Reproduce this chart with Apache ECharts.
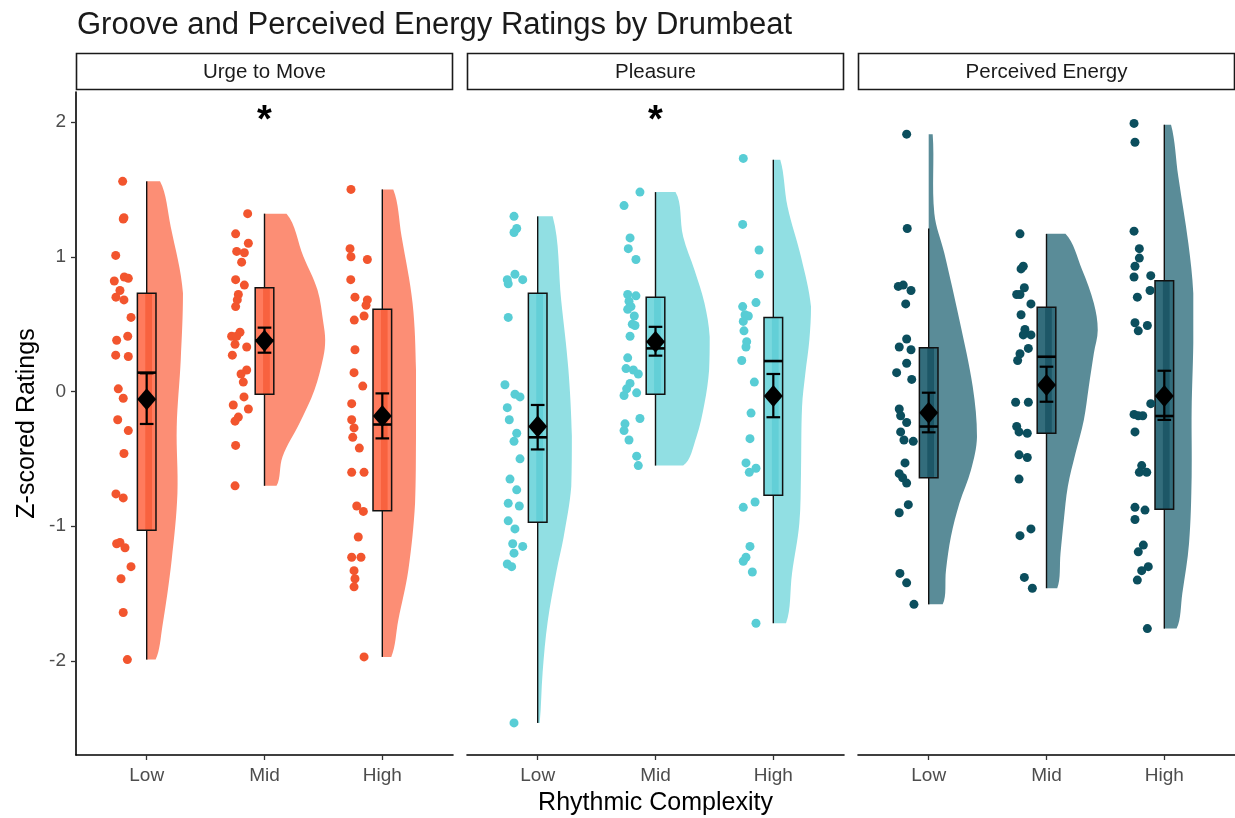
<!DOCTYPE html>
<html><head><meta charset="utf-8">
<script src="https://cdn.jsdelivr.net/npm/echarts@6/dist/echarts.min.js"></script>
<style>html,body{margin:0;padding:0;background:#fff}#c{width:1235px;height:818px}</style>
</head><body><div id="c"></div>
<script>
const chartTitle = 'Groove and Perceived Energy Ratings by Drumbeat';
const panels = ['Urge to Move', 'Pleasure', 'Perceived Energy'];
const categories = ['Low', 'Mid', 'High'];
const yTicks = [-2, -1, 0, 1, 2];
const xTitle = 'Rhythmic Complexity';
const yTitle = 'Z-scored Ratings';

// ---- raw ratings (z-scores) and horizontal jitter (category units) ----
const urgeLow = [1.56,1.28,1.29,1.01,0.82,0.85,0.84,0.75,0.70,0.68,0.55,0.38,0.41,0.27,0.26,0.02,-0.05,-0.21,-0.29,-0.46,-0.76,-0.79,-1.13,-1.12,-1.16,-1.30,-1.39,-1.64,-1.99];
const urgeLowJit = [-0.204,-0.199,-0.193,-0.263,-0.275,-0.19,-0.156,-0.227,-0.261,-0.193,-0.133,-0.255,-0.161,-0.263,-0.156,-0.241,-0.199,-0.246,-0.156,-0.193,-0.261,-0.199,-0.255,-0.227,-0.184,-0.133,-0.218,-0.199,-0.164];
const urgeMid = [1.32,1.17,1.10,1.04,1.03,0.96,0.83,0.79,0.72,0.68,0.63,0.44,0.41,0.41,0.35,0.33,0.27,0.16,0.13,0.07,-0.04,-0.10,-0.13,-0.19,-0.22,-0.40,-0.70];
const urgeMidJit = [-0.143,-0.245,-0.137,-0.236,-0.171,-0.194,-0.245,-0.171,-0.222,-0.231,-0.245,-0.208,-0.279,-0.236,-0.250,-0.151,-0.273,-0.151,-0.199,-0.180,-0.174,-0.265,-0.137,-0.222,-0.250,-0.245,-0.250];
const urgeHigh = [1.50,1.06,1.00,0.98,0.83,0.70,0.68,0.64,0.56,0.53,0.31,0.14,0.04,-0.09,-0.21,-0.27,-0.34,-0.42,-0.60,-0.60,-0.85,-0.89,-1.08,-1.23,-1.23,-1.33,-1.39,-1.45,-1.97];
const urgeHighJit = [-0.266,-0.274,-0.266,-0.127,-0.268,-0.232,-0.127,-0.138,-0.155,-0.238,-0.232,-0.240,-0.166,-0.260,-0.260,-0.240,-0.251,-0.195,-0.260,-0.155,-0.217,-0.161,-0.204,-0.260,-0.181,-0.240,-0.232,-0.240,-0.155];

const pleasureLow = [1.30,1.21,1.18,0.87,0.83,0.83,0.80,0.55,0.05,-0.02,-0.04,-0.12,-0.21,-0.31,-0.37,-0.50,-0.65,-0.73,-0.83,-0.85,-0.96,-1.02,-1.13,-1.15,-1.20,-1.28,-1.30,-2.46];
const pleasureLowJit = [-0.201,-0.178,-0.201,-0.193,-0.258,-0.127,-0.250,-0.250,-0.278,-0.193,-0.150,-0.258,-0.241,-0.178,-0.201,-0.150,-0.235,-0.178,-0.250,-0.156,-0.250,-0.193,-0.212,-0.127,-0.201,-0.258,-0.221,-0.201];
const pleasureMid = [1.48,1.38,1.14,1.06,0.98,0.72,0.71,0.67,0.63,0.61,0.56,0.50,0.49,0.41,0.25,0.17,0.16,0.13,0.06,0.02,-0.01,-0.03,-0.20,-0.24,-0.29,-0.36,-0.48,-0.55];
const pleasureMidJit = [-0.132,-0.267,-0.216,-0.231,-0.166,-0.236,-0.166,-0.225,-0.208,-0.236,-0.180,-0.197,-0.174,-0.216,-0.236,-0.250,-0.188,-0.146,-0.216,-0.245,-0.160,-0.267,-0.132,-0.259,-0.267,-0.225,-0.160,-0.146];
const pleasureHigh = [1.73,1.24,1.05,0.87,0.66,0.63,0.57,0.56,0.52,0.45,0.37,0.33,0.23,0.07,-0.16,-0.35,-0.53,-0.60,-0.57,-0.86,-0.82,-1.15,-1.23,-1.26,-1.34,-1.72];
const pleasureHighJit = [-0.255,-0.260,-0.121,-0.119,-0.147,-0.260,-0.240,-0.212,-0.255,-0.249,-0.226,-0.232,-0.268,-0.161,-0.189,-0.198,-0.232,-0.204,-0.147,-0.255,-0.155,-0.198,-0.232,-0.255,-0.178,-0.147];

const energyLow = [1.91,1.21,0.78,0.79,0.75,0.65,0.39,0.33,0.31,0.21,0.14,0.09,-0.13,-0.18,-0.23,-0.30,-0.36,-0.37,-0.53,-0.61,-0.64,-0.68,-0.84,-0.90,-1.35,-1.42,-1.58];
const energyLowJit = [-0.187,-0.182,-0.258,-0.216,-0.150,-0.195,-0.187,-0.250,-0.150,-0.187,-0.272,-0.144,-0.250,-0.238,-0.187,-0.238,-0.210,-0.131,-0.201,-0.250,-0.221,-0.187,-0.173,-0.250,-0.244,-0.187,-0.125];
const energyMid = [1.17,0.93,0.91,0.77,0.72,0.72,0.65,0.57,0.46,0.42,0.42,0.32,0.28,0.23,-0.08,-0.08,-0.26,-0.30,-0.31,-0.47,-0.49,-0.65,-1.07,-1.02,-1.38,-1.46];
const energyMidJit = [-0.225,-0.197,-0.216,-0.188,-0.253,-0.225,-0.132,-0.216,-0.183,-0.197,-0.132,-0.154,-0.225,-0.245,-0.262,-0.154,-0.253,-0.233,-0.163,-0.233,-0.163,-0.233,-0.225,-0.132,-0.188,-0.120];
const energyHigh = [1.99,1.85,1.19,1.06,0.99,0.93,0.85,0.86,0.75,0.70,0.51,0.45,0.49,-0.09,-0.17,-0.18,-0.18,-0.30,-0.55,-0.60,-0.60,-0.86,-0.88,-0.95,-1.14,-1.19,-1.30,-1.33,-1.40,-1.76];
const energyHighJit = [-0.257,-0.249,-0.257,-0.212,-0.212,-0.249,-0.257,-0.115,-0.121,-0.229,-0.249,-0.221,-0.144,-0.115,-0.257,-0.183,-0.221,-0.249,-0.192,-0.212,-0.149,-0.249,-0.164,-0.249,-0.178,-0.221,-0.136,-0.192,-0.229,-0.144];

// ---- box stats per category: [lower whisker, Q1, median, Q3, upper whisker] ----
const urgeBox = [[-1.99,-1.03,0.14,0.73,1.56],[-0.70,-0.02,0.38,0.77,1.32],[-1.97,-0.885,-0.245,0.61,1.50]];
const pleasureBox = [[-2.46,-0.97,-0.34,0.73,1.30],[-0.55,-0.02,0.32,0.70,1.48],[-1.72,-0.77,0.226,0.55,1.72]];
const energyBox = [[-1.58,-0.64,-0.26,0.325,1.21],[-1.46,-0.31,0.258,0.625,1.17],[-1.76,-0.874,-0.182,0.822,1.98]];

// ---- means and standard-error bounds ----
const urgeMean = [-0.058, 0.377, -0.182];
const urgeErrLow = [-0.241, 0.288, -0.348];
const urgeErrHigh = [0.135, 0.474, -0.014];
const pleasureMean = [-0.26, 0.37, -0.033];
const pleasureErrLow = [-0.43, 0.266, -0.191];
const pleasureErrHigh = [-0.10, 0.48, 0.13];
const energyMean = [-0.157, 0.048, -0.033];
const energyErrLow = [-0.303, -0.076, -0.211];
const energyErrHigh = [-0.009, 0.184, 0.154];

// ---- half-violin density profiles: [rating, half-width in category units] ----
const urgeLowViolin = [[1.56,0.113],[1.223,0.204],[0.729,0.308],[0.234,0.289],[-0.261,0.255],[-0.756,0.261],[-1.25,0.212],[-1.745,0.133],[-1.99,0.076]];
const urgeMidViolin = [[1.32,0.187],[1.0,0.331],[0.753,0.45],[0.506,0.50],[0.382,0.515],[0.258,0.50],[0.011,0.424],[-0.236,0.297],[-0.484,0.153],[-0.70,0.102]];
const urgeHighViolin = [[1.50,0.093],[1.149,0.164],[0.655,0.257],[0.16,0.286],[-0.335,0.286],[-0.83,0.278],[-1.325,0.221],[-1.696,0.136],[-1.97,0.076]];
const pleasureLowViolin = [[1.30,0.127],[0.672,0.20],[0.17,0.26],[-0.33,0.29],[-0.706,0.285],[-1.082,0.22],[-1.332,0.16],[-1.708,0.085],[-2.084,0.042],[-2.46,0.017]];
const pleasureMidViolin = [[1.48,0.17],[1.149,0.235],[0.902,0.331],[0.655,0.416],[0.407,0.46],[0.16,0.455],[-0.088,0.416],[-0.335,0.348],[-0.55,0.235]];
const pleasureHighViolin = [[1.72,0.059],[1.371,0.121],[1.0,0.235],[0.629,0.32],[0.382,0.306],[0.135,0.272],[-0.113,0.244],[-0.607,0.235],[-0.978,0.221],[-1.349,0.159],[-1.72,0.108]];
const energyLowViolin = [[1.91,0.034],[1.322,0.048],[1.026,0.133],[0.531,0.261],[0.036,0.374],[-0.335,0.41],[-0.583,0.359],[-0.83,0.261],[-1.077,0.189],[-1.325,0.147],[-1.58,0.119]];
const energyMidViolin = [[1.17,0.161],[0.902,0.303],[0.655,0.402],[0.456,0.435],[0.283,0.402],[0.036,0.359],[-0.211,0.317],[-0.459,0.246],[-0.706,0.181],[-0.954,0.147],[-1.201,0.119],[-1.46,0.091]];
const energyHighViolin = [[1.98,0.057],[1.594,0.119],[1.1,0.204],[0.729,0.246],[0.358,0.246],[-0.137,0.232],[-0.632,0.232],[-1.127,0.21],[-1.498,0.153],[-1.76,0.104]];

// ---- significance annotations (symbol per panel at Mid) ----
const starText = ['*', '*', ''];
const starLevel = 2.07;

// ---------------- assemble ----------------
const panelData = [
  {vals:[urgeLow,urgeMid,urgeHigh], jit:[urgeLowJit,urgeMidJit,urgeHighJit], box:urgeBox, mean:urgeMean, lo:urgeErrLow, hi:urgeErrHigh, violin:[urgeLowViolin,urgeMidViolin,urgeHighViolin]},
  {vals:[pleasureLow,pleasureMid,pleasureHigh], jit:[pleasureLowJit,pleasureMidJit,pleasureHighJit], box:pleasureBox, mean:pleasureMean, lo:pleasureErrLow, hi:pleasureErrHigh, violin:[pleasureLowViolin,pleasureMidViolin,pleasureHighViolin]},
  {vals:[energyLow,energyMid,energyHigh], jit:[energyLowJit,energyMidJit,energyHighJit], box:energyBox, mean:energyMean, lo:energyErrLow, hi:energyErrHigh, violin:[energyLowViolin,energyMidViolin,energyHighViolin]}
];
const palette = [
  {point:'#F2552E', violin:'#FC8E75', box:'#FF7B5D', stripe:'#F8623F'},
  {point:'#58CDD5', violin:'#91DFE3', box:'#79D8DE', stripe:'#63CFD7'},
  {point:'#0B4E5D', violin:'#5A8C98', box:'#336D7C', stripe:'#1D5767'}
];

const FONT = '"Liberation Sans", Arial, sans-serif';
const gridLefts = [76, 467, 858];
const gridW = 377, gridTop = 92, gridH = 663;
const Y_MIN = -2.698, Y_MAX = 2.223;
const boxHalf = 0.079, capHalf = 0.058;

const grids = [], xAxes = [], yAxes = [], series = [], graphics = [];

panelData.forEach((pd, k) => {
  const col = palette[k];
  grids.push({left: gridLefts[k], top: gridTop, width: gridW, height: gridH, containLabel: false, outerBoundsMode: 'none'});
  xAxes.push({
    gridIndex: k, type: 'value', min: 0.4, max: 3.6,
    axisLine: {show: true, onZero: false, lineStyle: {color: '#000', width: 1.6}},
    axisTick: {show: true, customValues: [1,2,3], length: 5, lineStyle: {color: '#333', width: 1.3}},
    axisLabel: {show: true, customValues: [1,2,3], formatter: v => categories[Math.round(v) - 1], fontSize: 19, color: '#4d4d4d', margin: 11, fontFamily: FONT},
    splitLine: {show: false}
  });
  yAxes.push({
    gridIndex: k, type: 'value', min: Y_MIN, max: Y_MAX,
    axisLine: {show: k === 0, onZero: false, lineStyle: {color: '#000', width: 1.6}},
    axisTick: {show: k === 0, customValues: yTicks, length: 5, lineStyle: {color: '#333', width: 1.3}},
    axisLabel: {show: k === 0, customValues: yTicks, fontSize: 19, color: '#4d4d4d', margin: 10, fontFamily: FONT},
    splitLine: {show: false}
  });

  // half violins
  series.push({
    type: 'custom', xAxisIndex: k, yAxisIndex: k, silent: true, z: 1,
    data: categories.map((c, i) => [i + 1, 0]),
    renderItem: (params, api) => {
      const i = params.dataIndex, cx = i + 1, prof = pd.violin[i];
      const right = prof.map(p => api.coord([cx + p[1], p[0]]));
      const left = prof.slice().reverse().map(p => api.coord([cx, p[0]]));
      const pts = right.concat(left);
      let minX = Infinity, minY = Infinity, maxX = -Infinity, maxY = -Infinity;
      pts.forEach(p => { minX = Math.min(minX, p[0]); maxX = Math.max(maxX, p[0]); minY = Math.min(minY, p[1]); maxY = Math.max(maxY, p[1]); });
      return {type: 'polygon', shape: {points: pts, smooth: 0.35, smoothConstraint: [[minX, minY], [maxX, maxY]]},
              style: {fill: col.violin}};
    }
  });

  // boxplots
  series.push({
    type: 'custom', xAxisIndex: k, yAxisIndex: k, silent: true, z: 2,
    data: pd.box.map((b, i) => [i + 1].concat(b)),
    renderItem: (params, api) => {
      const cx = api.value(0), lw = api.value(1), q1 = api.value(2), md = api.value(3), q3 = api.value(4), uw = api.value(5);
      const pTL = api.coord([cx - boxHalf, q3]), pBR = api.coord([cx + boxHalf, q1]);
      const sTL = api.coord([cx - 0.012, q3]), sBR = api.coord([cx + 0.045, q1]);
      const top = api.coord([cx, uw]), bot = api.coord([cx, lw]);
      const mL = api.coord([cx - boxHalf, md]), mR = api.coord([cx + boxHalf, md]);
      const cq3 = api.coord([cx, q3]), cq1 = api.coord([cx, q1]);
      const ls = {stroke: '#111', lineWidth: 1.4};
      return {type: 'group', children: [
        {type: 'line', shape: {x1: top[0], y1: top[1], x2: cq3[0], y2: cq3[1]}, style: ls},
        {type: 'line', shape: {x1: cq1[0], y1: cq1[1], x2: bot[0], y2: bot[1]}, style: ls},
        {type: 'rect', shape: {x: pTL[0], y: pTL[1], width: pBR[0] - pTL[0], height: pBR[1] - pTL[1]}, style: {fill: col.box}},
        {type: 'rect', shape: {x: sTL[0], y: sTL[1], width: sBR[0] - sTL[0], height: sBR[1] - sTL[1]}, style: {fill: col.stripe}},
        {type: 'rect', shape: {x: pTL[0], y: pTL[1], width: pBR[0] - pTL[0], height: pBR[1] - pTL[1]}, style: {fill: 'none', stroke: '#111', lineWidth: 1.5}},
        {type: 'line', shape: {x1: mL[0], y1: mL[1], x2: mR[0], y2: mR[1]}, style: {stroke: '#000', lineWidth: 2.6}}
      ]};
    }
  });

  // jittered raw points
  const pts = [];
  pd.vals.forEach((arr, i) => arr.forEach((v, j) => pts.push([i + 1 + pd.jit[i][j], v])));
  series.push({
    type: 'scatter', xAxisIndex: k, yAxisIndex: k, silent: true, z: 3,
    symbol: 'circle', symbolSize: 9, itemStyle: {color: col.point, opacity: 1},
    data: pts
  });

  // error bars
  series.push({
    type: 'custom', xAxisIndex: k, yAxisIndex: k, silent: true, z: 4,
    data: pd.mean.map((m, i) => [i + 1, pd.lo[i], pd.hi[i]]),
    renderItem: (params, api) => {
      const cx = api.value(0), lo = api.value(1), hi = api.value(2);
      const a = api.coord([cx, hi]), b = api.coord([cx, lo]);
      const hl = api.coord([cx - capHalf, hi]), hr = api.coord([cx + capHalf, hi]);
      const ll = api.coord([cx - capHalf, lo]), lr = api.coord([cx + capHalf, lo]);
      const st = {stroke: '#000', lineWidth: 2.2};
      return {type: 'group', children: [
        {type: 'line', shape: {x1: a[0], y1: a[1], x2: b[0], y2: b[1]}, style: st},
        {type: 'line', shape: {x1: hl[0], y1: hl[1], x2: hr[0], y2: hr[1]}, style: st},
        {type: 'line', shape: {x1: ll[0], y1: ll[1], x2: lr[0], y2: lr[1]}, style: st}
      ]};
    }
  });

  // mean diamonds
  series.push({
    type: 'scatter', xAxisIndex: k, yAxisIndex: k, silent: true, z: 5,
    symbol: 'diamond', symbolSize: [19, 22], itemStyle: {color: '#000', opacity: 1},
    data: pd.mean.map((m, i) => [i + 1, m])
  });

  // significance stars
  if (starText[k]) {
    series.push({
      type: 'custom', xAxisIndex: k, yAxisIndex: k, silent: true, z: 6,
      data: [[2, starLevel]],
      renderItem: (params, api) => {
        const p = api.coord([api.value(0), api.value(1)]);
        return {type: 'text', x: p[0], y: p[1] + 9,
                style: {text: starText[k], fontSize: 38, fontWeight: 'bold', fill: '#000', align: 'center', verticalAlign: 'middle', fontFamily: FONT}};
      }
    });
  }

  // facet strip
  graphics.push({type: 'rect', shape: {x: gridLefts[k] + 0.5, y: 53.5, width: gridW - 1, height: 36},
                 style: {fill: '#fff', stroke: '#1a1a1a', lineWidth: 1.6}, z: 10});
  graphics.push({type: 'text', x: gridLefts[k] + gridW / 2, y: 72,
                 style: {text: panels[k], fontSize: 20.5, fill: '#1a1a1a', align: 'center', verticalAlign: 'middle', fontFamily: FONT}, z: 11});
});

// axis titles
graphics.push({type: 'text', x: gridLefts[1] + gridW / 2, y: 803,
               style: {text: xTitle, fontSize: 25, fill: '#000', align: 'center', verticalAlign: 'middle', fontFamily: FONT}, z: 11});
graphics.push({type: 'text', x: 27, y: gridTop + gridH / 2, rotation: Math.PI / 2,
               style: {text: yTitle, fontSize: 25, fill: '#000', align: 'center', verticalAlign: 'middle', fontFamily: FONT}, z: 11});

const chart = echarts.init(document.getElementById('c'), null, {renderer: 'canvas'});
chart.setOption({
  animation: false,
  backgroundColor: '#fff',
  textStyle: {fontFamily: FONT},
  title: {text: chartTitle, left: 72, top: 5, textStyle: {fontSize: 31, fontWeight: 'normal', color: '#1a1a1a', fontFamily: FONT}},
  grid: grids, xAxis: xAxes, yAxis: yAxes, series: series, graphic: graphics
});
</script></body></html>
